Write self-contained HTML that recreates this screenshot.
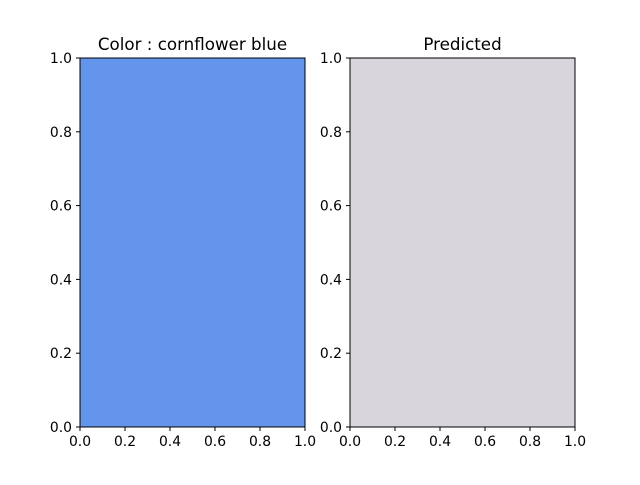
<!DOCTYPE html>
<html><head><meta charset="utf-8"><style>
body{margin:0;background:#fff;}
svg text{font-family:"DejaVu Sans","Liberation Sans",sans-serif;font-size:13.9px;fill:#000;}
</style></head><body>
<svg id="chart" width="640" height="480" xmlns="http://www.w3.org/2000/svg"></svg>
<script>
const xTicks = [0, 0.2, 0.4, 0.6, 0.8, 1.0];
const yTicks = [0, 0.2, 0.4, 0.6, 0.8, 1.0];
const panelTitles = ["Color : cornflower blue", "Predicted"];
const panelColors = ["#6495ed", "#d8d5dc"];
const panelLeft = [80, 350];
const W = 225, TOP = 58, BOT = 427;
const svg = document.getElementById('chart');
const NS = 'http://www.w3.org/2000/svg';
function mk(tag, attrs, parent){const e=document.createElementNS(NS,tag);for(const k in attrs)e.setAttribute(k,attrs[k]);(parent||svg).appendChild(e);return e;}
panelTitles.forEach((t,i)=>{
  const L = panelLeft[i];
  const sx = v => L + v*W;
  const sy = v => BOT - v*(BOT-TOP);
  const g = mk('g',{});
  
  
  const r = mk('rect',{x:sx(0),y:sy(1),width:sx(1)-sx(0),height:sy(0)-sy(1),fill:panelColors[i],stroke:'#000','stroke-width':1},g);
  
  
  const tt = mk('text',{x:sx(0.5),y:TOP-8,'text-anchor':'middle',style:'font-size:16.7px'},g);
  tt.textContent = t;
  
  
  xTicks.forEach(v=>{
    mk('line',{x1:sx(v),x2:sx(v),y1:BOT,y2:BOT+4,stroke:'#000'},g);
    const tx = mk('text',{x:sx(v),y:BOT+19,'text-anchor':'middle'},g);
    tx.textContent = v.toFixed(1);
    
    
  });
  yTicks.forEach(v=>{
    mk('line',{x1:L-4,x2:L,y1:sy(v),y2:sy(v),stroke:'#000'},g);
    const ty = mk('text',{x:L-8,y:sy(v)+5,'text-anchor':'end'},g);
    ty.textContent = v.toFixed(1);
    
    
  });
});
</script>
</body></html>
